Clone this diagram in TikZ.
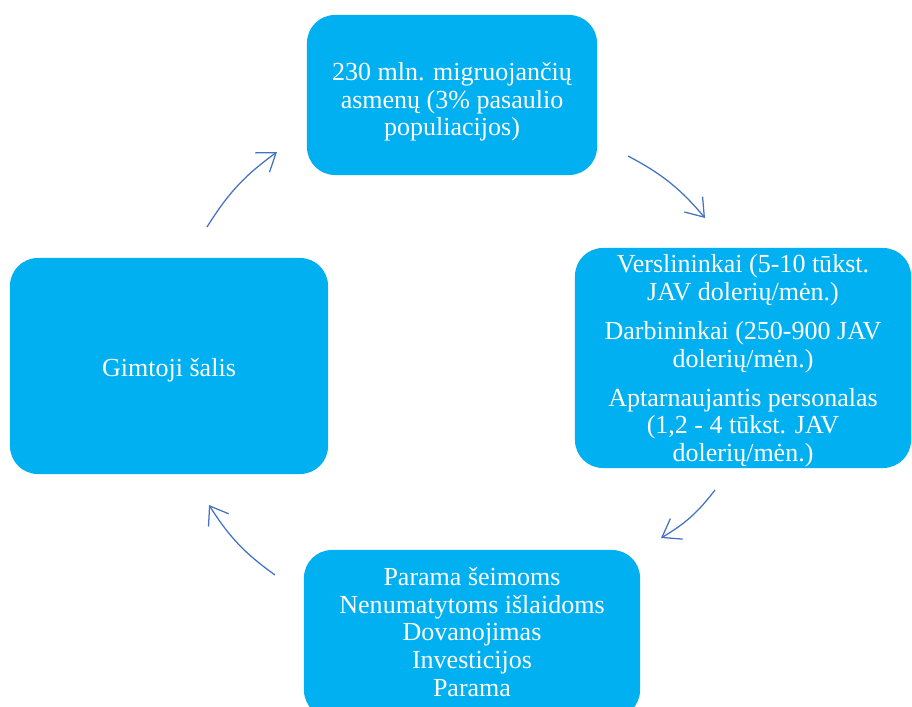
\documentclass[tikz,border=0pt]{standalone}
\usepackage{fontspec}
\setmainfont{Liberation Serif}
\usetikzlibrary{arrows.meta}

\definecolor{boxcyan}{HTML}{00B0F0}
\definecolor{arrowblue}{HTML}{4472C4}

\begin{document}
\begin{tikzpicture}[x=0.025cm,y=-0.025cm,
		stagebox/.style={fill=boxcyan, rounded corners=0.7cm, inner sep=0pt},
		boxtext/.style={text=white, align=center, inner sep=0pt,
			font=\fontsize{18.5}{19.7}\selectfont},
		cyclearrow/.style={draw=arrowblue, line width=0.9pt, bend left=11,
			-{Straight Barb[length=12pt,width=17pt,line width=0.9pt]}}]
		\useasboundingbox (0,0) rectangle (912,707);
		\clip (0,0) rectangle (912,707);

		% boxes
		\node[stagebox, minimum width=7.25cm, minimum height=4cm] (migrants) at (452,95) {};
		\node[stagebox, minimum width=8.4cm, minimum height=5.5cm] (income) at (743,358) {};
		\node[stagebox, minimum width=8.4cm, minimum height=4.2cm] (transfers) at (472,634) {};
		\node[stagebox, minimum width=7.95cm, minimum height=5.4cm] (home) at (169,366) {};

		% texts
		\node[boxtext, yshift=-0.17cm] (migrantstext) at (migrants.center)
			{230 mln. migruojančių\\asmenų (3\% pasaulio\\populiacijos)};
		\node[boxtext, yshift=-0.07cm] (incometext) at (income.center)
			{Verslininkai (5-10 tūkst.\\JAV dolerių/mėn.)\\[8pt]
			 Darbininkai (250-900 JAV\\dolerių/mėn.)\\[8pt]
			 Aptarnaujantis personalas\\(1,2 - 4 tūkst. JAV\\dolerių/mėn.)};
		\node[boxtext, yshift=0.05cm] (transferstext) at (transfers.center)
			{Parama šeimoms\\Nenumatytoms išlaidoms\\Dovanojimas\\Investicijos\\Parama};
		\node[boxtext, yshift=-0.1cm] (hometext) at (home.center) {Gimtoji šalis};

		% arrow ends
		\coordinate (a1s) at (207,227);
		\coordinate (a1e) at (277,152);
		\coordinate (a2s) at (628,156);
		\coordinate (a2e) at (705,218);
		\coordinate (a3s) at (715,490);
		\coordinate (a3e) at (661,538);
		\coordinate (a4s) at (275,575);
		\coordinate (a4e) at (209,505);

		% cycle
		\draw[cyclearrow] (a1s) to (a1e);
		\draw[cyclearrow] (a2s) to (a2e);
		\draw[cyclearrow] (a3s) to (a3e);
		\draw[cyclearrow] (a4s) to (a4e);
\end{tikzpicture}
\end{document}
